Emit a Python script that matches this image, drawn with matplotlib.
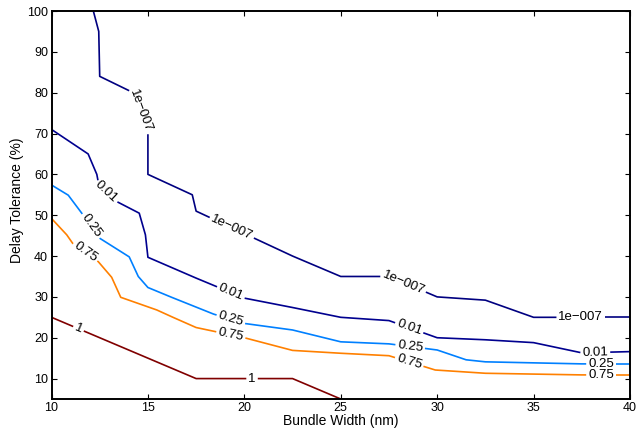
import numpy as np
import matplotlib
matplotlib.use("Agg")
import matplotlib.pyplot as plt

plt.rcParams['font.family'] = ['Liberation Sans', 'DejaVu Sans']

# ---- data -------------------------------------------------------------
x_ticks = [10, 15, 20, 25, 30, 35, 40]
y_ticks = [10, 20, 30, 40, 50, 60, 70, 80, 90, 100]

levels = ["1e\u2212007", "0.01", "0.25", "0.75", "1"]
level_colors = ["#000080", "#00008F", "#0080FF", "#FF8000", "#800000"]

c1e7_x = [12.17, 12.45, 12.5, 14.24, 15.0, 15.0, 17.3, 17.5, 22.5, 25.0, 27.5, 30.0, 32.5, 35.0, 40.0]
c1e7_y = [100.0, 95.0, 84.0, 80.0, 70.4, 60.0, 55.0, 51.0, 40.0, 35.0, 35.0, 30.0, 29.2, 25.0, 25.0]
c1e7_lab = [14.6, 19.35, 28.25, 37.45]

c001_x = [10.0, 11.9, 12.35, 12.45, 13.4, 14.55, 14.87, 15.0, 17.5, 20.0, 22.5, 25.0, 27.5, 30.0, 32.5, 35.0, 37.5, 40.0]
c001_y = [71.0, 65.0, 60.0, 57.5, 53.3, 50.5, 45.2, 39.7, 34.6, 29.7, 27.4, 25.0, 24.2, 20.0, 19.5, 18.8, 16.3, 16.6]
c001_lab = [12.85, 19.3, 28.55, 38.2]

c025_x = [10.0, 10.87, 11.6, 12.52, 14.03, 14.5, 15.0, 16.23, 18.4, 20.0, 22.5, 25.0, 27.5, 30.0, 31.5, 32.5, 37.5, 40.0]
c025_y = [57.4, 54.9, 50.3, 44.3, 39.8, 35.0, 32.3, 29.9, 25.8, 23.5, 21.9, 19.0, 18.5, 17.0, 14.6, 14.1, 13.6, 13.6]
c025_lab = [12.05, 19.3, 28.6, 38.5]

c075_x = [10.0, 10.79, 11.1, 12.43, 13.12, 13.59, 15.46, 16.3, 17.5, 20.0, 22.5, 25.0, 27.5, 29.9, 32.5, 37.5, 40.0]
c075_y = [49.2, 45.2, 43.1, 38.6, 34.8, 29.9, 26.8, 25.0, 22.5, 20.0, 16.9, 16.2, 15.6, 12.1, 11.3, 10.9, 10.9]
c075_lab = [11.75, 19.3, 28.55, 38.5]

c1_x = [10.0, 17.5, 22.5, 25.0]
c1_y = [25.0, 10.0, 10.0, 5.0]
c1_lab = [11.4, 20.4]

curves = [(c1e7_x, c1e7_y, c1e7_lab), (c001_x, c001_y, c001_lab),
          (c025_x, c025_y, c025_lab), (c075_x, c075_y, c075_lab),
          (c1_x, c1_y, c1_lab)]

# ---- figure -----------------------------------------------------------
fig = plt.figure(figsize=(6.36, 4.32), dpi=100)
ax = fig.add_axes([51.5 / 636, 33 / 432, (630 - 51.5) / 636, (399 - 11) / 432])
ax.set_xlim(10, 40)
ax.set_ylim(5, 100)
ax.set_xticks(x_ticks)
ax.set_yticks(y_ticks)
ax.tick_params(direction='in', length=3.5, width=0.8, labelsize=9, pad=2.5,
               top=True, right=True, color='black')
ax.tick_params(axis='x', pad=2)
for sp in ax.spines.values():
    sp.set_linewidth(1.4)

ax.set_xlabel("Bundle Width (nm)", fontsize=10)
ax.set_ylabel("Delay Tolerance (%)", fontsize=10)
ax.xaxis.set_label_coords(0.5, (399 - 421.5) / 388)
ax.yaxis.set_label_coords((17.5 - 51.5) / 578.5, (399 - 200) / 388)
ax.xaxis.label.set_va('center')
ax.yaxis.label.set_va('center')
ax.yaxis.label.set_ha('center')

fig.canvas.draw()
renderer = fig.canvas.get_renderer()
T = ax.transData


def sub_path(P, s, a, b):
    """Return display points of polyline P between arc lengths a and b."""
    pts = []
    pa = np.array([np.interp(a, s, P[:, 0]), np.interp(a, s, P[:, 1])])
    pts.append(pa)
    for i in range(len(s)):
        if a < s[i] < b:
            pts.append(P[i])
    pb = np.array([np.interp(b, s, P[:, 0]), np.interp(b, s, P[:, 1])])
    pts.append(pb)
    return np.array(pts)


for (xs, ys, labs), name, col in zip(curves, levels, level_colors):
    xs = np.asarray(xs, float)
    ys = np.asarray(ys, float)
    P = T.transform(np.column_stack([xs, ys]))
    seg = np.hypot(np.diff(P[:, 0]), np.diff(P[:, 1]))
    s = np.concatenate([[0], np.cumsum(seg)])
    cuts = []
    for lx in labs:
        ly = np.interp(lx, xs, ys)
        i = np.searchsorted(xs, lx) - 1
        i = int(np.clip(i, 0, len(xs) - 2))
        while i < len(xs) - 2 and xs[i + 1] == xs[i]:
            i += 1
        p0, p1 = P[i], P[i + 1]
        ang = np.degrees(np.arctan2(p1[1] - p0[1], p1[0] - p0[0]))
        if ang > 90:
            ang -= 180
        if ang < -90:
            ang += 180
        pd = T.transform((lx, ly))
        frac = np.hypot(*(pd - p0)) / max(seg[i], 1e-9)
        sl = s[i] + frac * seg[i]
        t = ax.text(lx, ly, name, fontsize=9.5, ha='center', va='center',
                    rotation=0, color='black', rotation_mode='anchor')
        w = t.get_window_extent(renderer).width
        t.set_rotation(ang)
        half = w / 2 + 2
        cuts.append((sl - half, sl + half))
    cuts.sort()
    start = 0.0
    pieces = []
    for a, b in cuts:
        if a > start:
            pieces.append((start, a))
        start = max(start, b)
    if start < s[-1]:
        pieces.append((start, s[-1]))
    for a, b in pieces:
        D = sub_path(P, s, a, b)
        Dd = T.inverted().transform(D)
        ax.plot(Dd[:, 0], Dd[:, 1], color=col, lw=1.2, solid_capstyle='butt',
                clip_on=True)

ax.set_xlim(10, 40)
ax.set_ylim(5, 100)
fig.savefig("out.png", dpi=100)
